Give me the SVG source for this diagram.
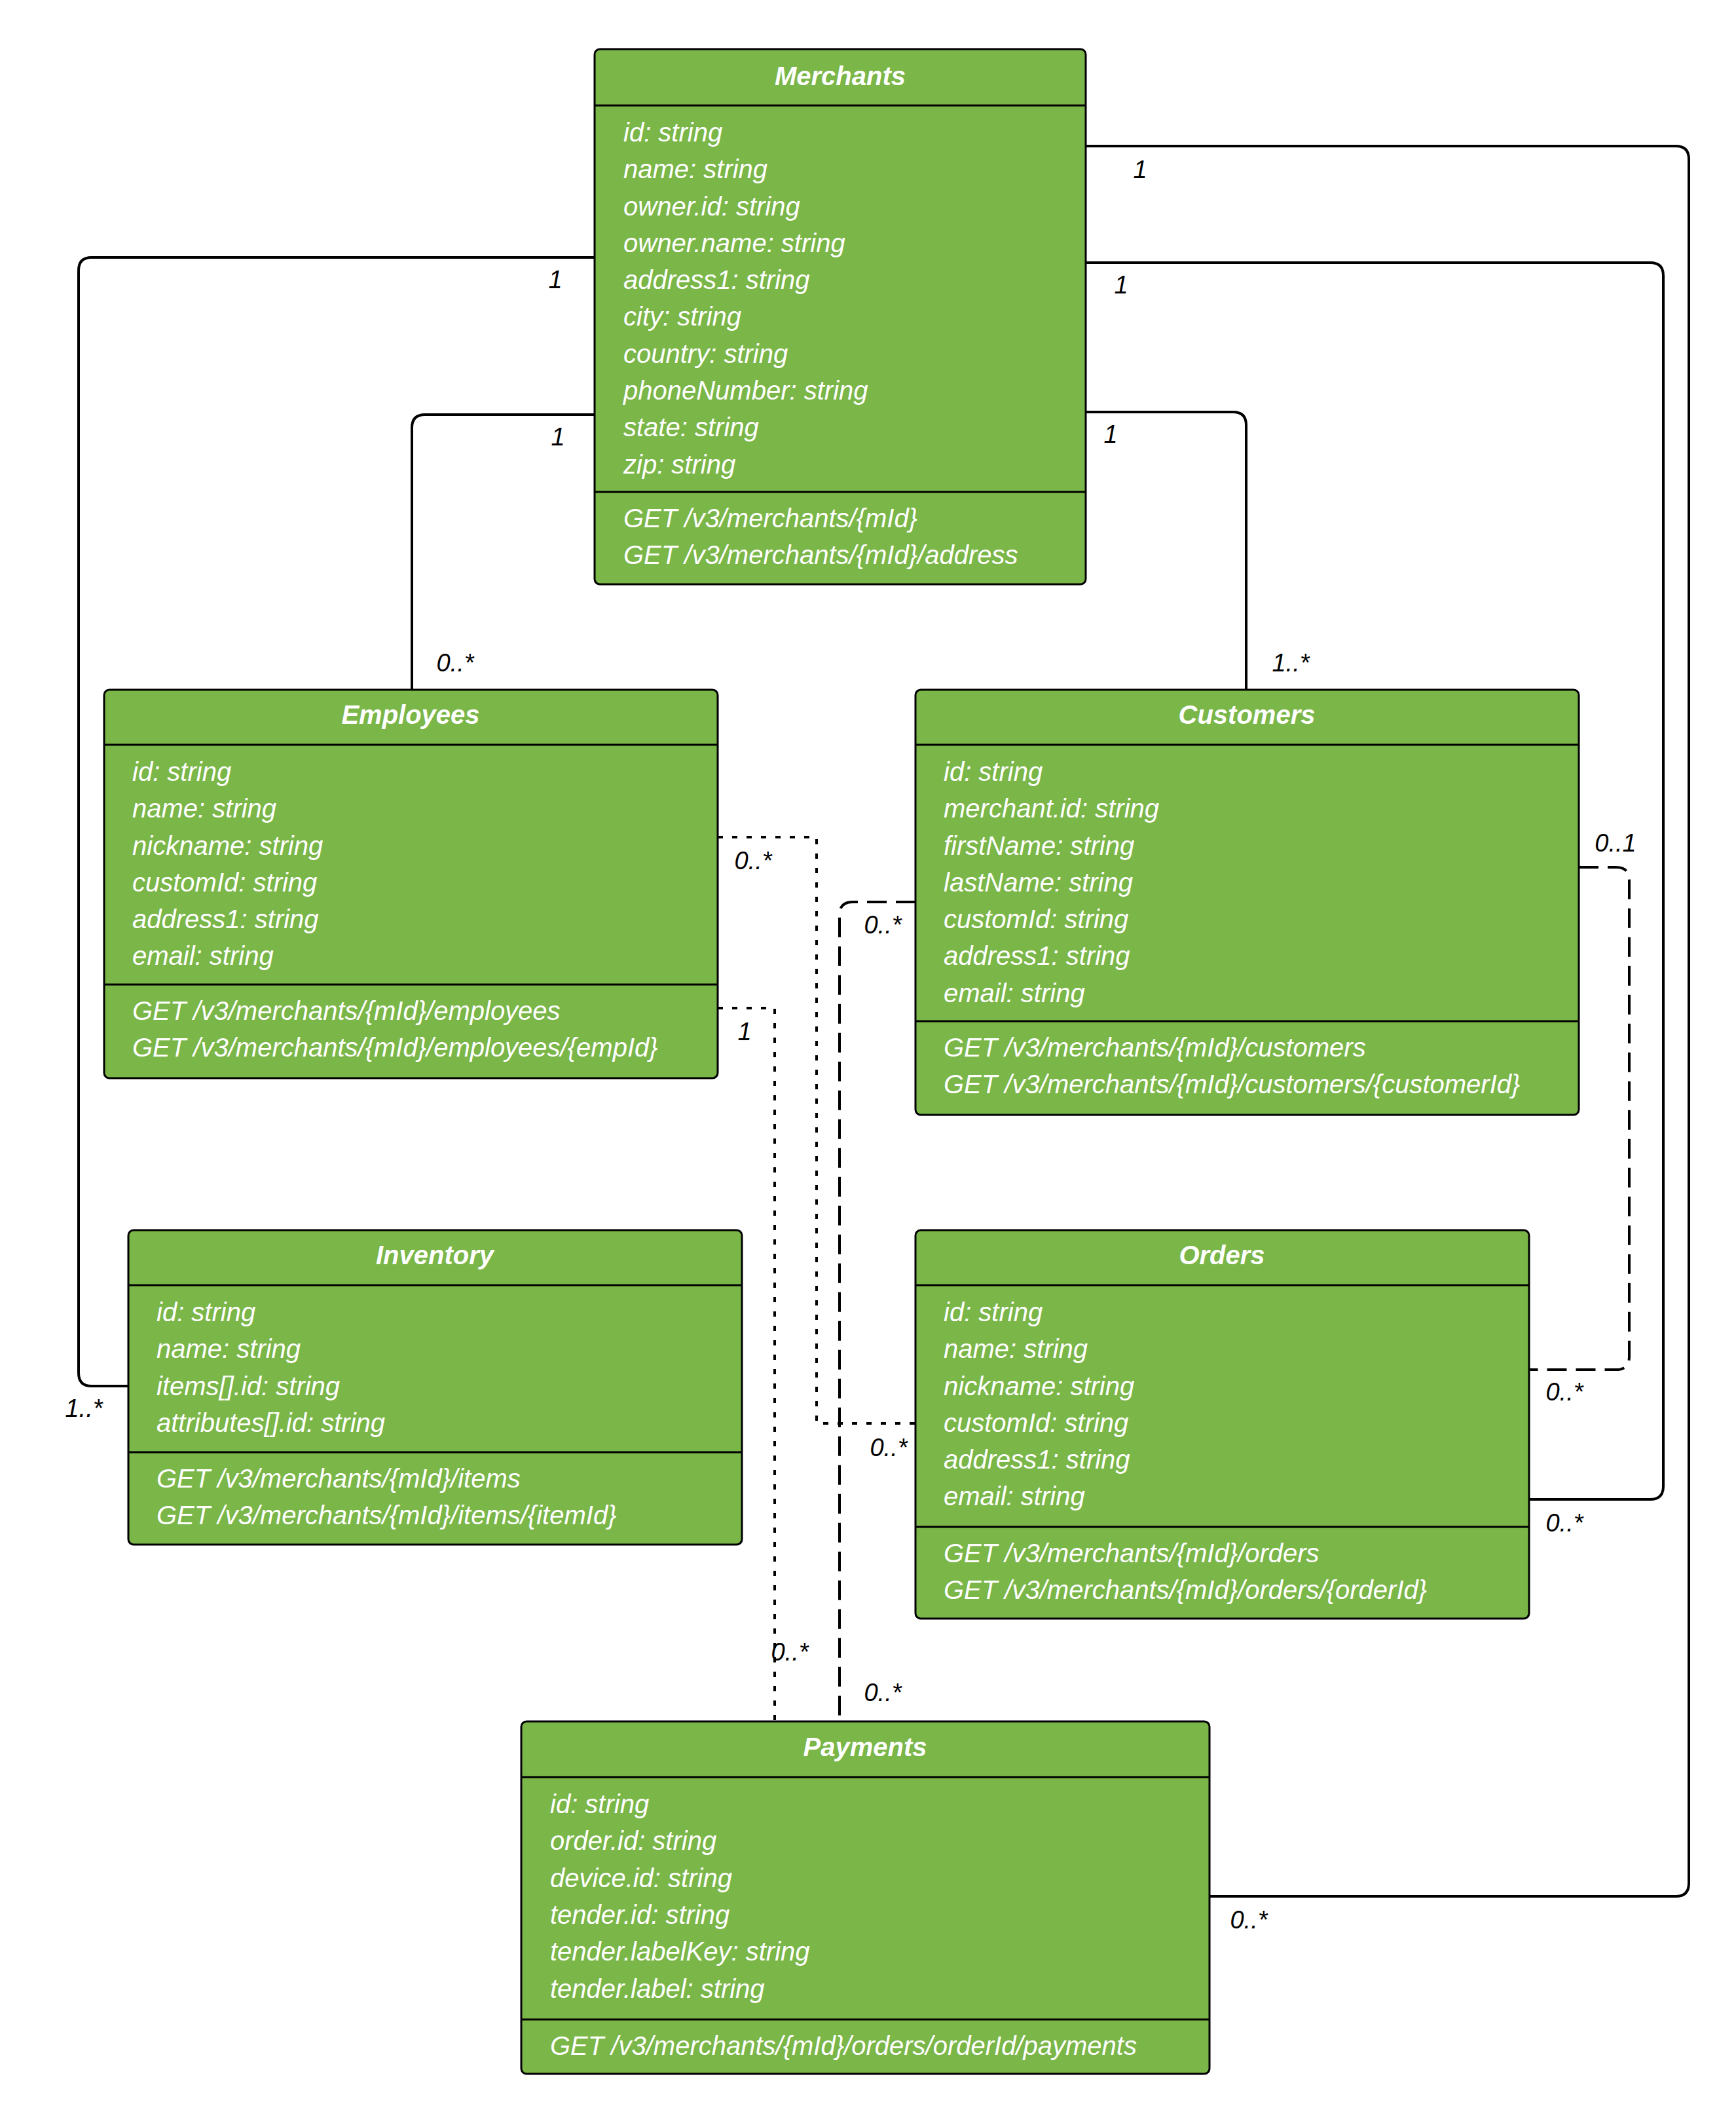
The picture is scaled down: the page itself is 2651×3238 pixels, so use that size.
<svg xmlns="http://www.w3.org/2000/svg" width="2651" height="3238" viewBox="0 0 2651 3238">
<style>
.box{fill:#7ab648;stroke:#000;stroke-width:3}
.ln{stroke:#000;stroke-width:3}
.t{font-family:"Liberation Sans",Arial,sans-serif;font-style:italic;font-size:40px;fill:#fff}
.h{font-weight:bold;text-anchor:middle}
.c{fill:none;stroke:#000;stroke-width:4}
.dot{stroke-dasharray:8 14}
.dash{stroke-dasharray:30 14}
.lb{font-family:"Liberation Sans",Arial,sans-serif;font-style:italic;font-size:38px;fill:#000;text-anchor:middle}
</style>
<rect width="2651" height="3238" fill="#fff"/>
<g id="connectors">
<path class="c" d="M1658 223 H2559 Q2579 223 2579 243 V2875 Q2579 2895 2559 2895 H1847"/>
<path class="c" d="M1658 401 H2520 Q2540 401 2540 421 V2269 Q2540 2289 2520 2289 H2335"/>
<path class="c" d="M1658 629 H1883 Q1903 629 1903 649 V1053"/>
<path class="c" d="M908 393 H140 Q120 393 120 413 V2096 Q120 2116 140 2116 H196"/>
<path class="c" d="M908 633 H649 Q629 633 629 653 V1053"/>
<path class="c dot" d="M1096 1278 H1247 V2173 H1398"/>
<path class="c dot" d="M1096 1539 H1183 V2628"/>
<path class="c dash" d="M1398 1377 H1302 Q1282 1377 1282 1397 V2628"/>
<path class="c dash" d="M2411 1324 H2468 Q2488 1324 2488 1344 V2071 Q2488 2091 2468 2091 H2335"/>
<text class="lb" x="1741" y="272">1</text>
<text class="lb" x="1907" y="2944">0..*</text>
<text class="lb" x="1712" y="448">1</text>
<text class="lb" x="2389" y="2338">0..*</text>
<text class="lb" x="1696" y="676">1</text>
<text class="lb" x="1971" y="1025">1..*</text>
<text class="lb" x="848" y="440">1</text>
<text class="lb" x="128" y="2163">1..*</text>
<text class="lb" x="852" y="680">1</text>
<text class="lb" x="695" y="1025">0..*</text>
<text class="lb" x="1150" y="1327">0..*</text>
<text class="lb" x="1357" y="2223">0..*</text>
<text class="lb" x="1137" y="1588">1</text>
<text class="lb" x="1206" y="2535">0..*</text>
<text class="lb" x="1348" y="1425">0..*</text>
<text class="lb" x="1348" y="2597">0..*</text>
<text class="lb" x="2467" y="1300">0..1</text>
<text class="lb" x="2389" y="2138">0..*</text>
</g>
<g id="merchants">
<rect class="box" x="908" y="75" width="750" height="817" rx="8"/>
<line class="ln" x1="908" y1="161" x2="1658" y2="161"/>
<line class="ln" x1="908" y1="751" x2="1658" y2="751"/>
<text class="t h" x="1283" y="130">Merchants</text>
<text class="t" x="952" y="216">id: string</text>
<text class="t" x="952" y="272">name: string</text>
<text class="t" x="952" y="329">owner.id: string</text>
<text class="t" x="952" y="385">owner.name: string</text>
<text class="t" x="952" y="441">address1: string</text>
<text class="t" x="952" y="497">city: string</text>
<text class="t" x="952" y="554">country: string</text>
<text class="t" x="952" y="610">phoneNumber: string</text>
<text class="t" x="952" y="666">state: string</text>
<text class="t" x="952" y="723">zip: string</text>
<text class="t" x="952" y="805">GET /v3/merchants/{mId}</text>
<text class="t" x="952" y="861">GET /v3/merchants/{mId}/address</text>
</g>
<g id="employees">
<rect class="box" x="159" y="1053" width="937" height="593" rx="8"/>
<line class="ln" x1="159" y1="1137" x2="1096" y2="1137"/>
<line class="ln" x1="159" y1="1503" x2="1096" y2="1503"/>
<text class="t h" x="627" y="1105">Employees</text>
<text class="t" x="202" y="1192">id: string</text>
<text class="t" x="202" y="1248">name: string</text>
<text class="t" x="202" y="1305">nickname: string</text>
<text class="t" x="202" y="1361">customId: string</text>
<text class="t" x="202" y="1417">address1: string</text>
<text class="t" x="202" y="1473">email: string</text>
<text class="t" x="202" y="1557">GET /v3/merchants/{mId}/employees</text>
<text class="t" x="202" y="1613">GET /v3/merchants/{mId}/employees/{empId}</text>
</g>
<g id="customers">
<rect class="box" x="1398" y="1053" width="1013" height="649" rx="8"/>
<line class="ln" x1="1398" y1="1137" x2="2411" y2="1137"/>
<line class="ln" x1="1398" y1="1559" x2="2411" y2="1559"/>
<text class="t h" x="1904" y="1105">Customers</text>
<text class="t" x="1441" y="1192">id: string</text>
<text class="t" x="1441" y="1248">merchant.id: string</text>
<text class="t" x="1441" y="1305">firstName: string</text>
<text class="t" x="1441" y="1361">lastName: string</text>
<text class="t" x="1441" y="1417">customId: string</text>
<text class="t" x="1441" y="1473">address1: string</text>
<text class="t" x="1441" y="1530">email: string</text>
<text class="t" x="1441" y="1613">GET /v3/merchants/{mId}/customers</text>
<text class="t" x="1441" y="1669">GET /v3/merchants/{mId}/customers/{customerId}</text>
</g>
<g id="inventory">
<rect class="box" x="196" y="1878" width="937" height="480" rx="8"/>
<line class="ln" x1="196" y1="1962" x2="1133" y2="1962"/>
<line class="ln" x1="196" y1="2217" x2="1133" y2="2217"/>
<text class="t h" x="664" y="1930">Inventory</text>
<text class="t" x="239" y="2017">id: string</text>
<text class="t" x="239" y="2073">name: string</text>
<text class="t" x="239" y="2130">items[].id: string</text>
<text class="t" x="239" y="2186">attributes[].id: string</text>
<text class="t" x="239" y="2271">GET /v3/merchants/{mId}/items</text>
<text class="t" x="239" y="2327">GET /v3/merchants/{mId}/items/{itemId}</text>
</g>
<g id="orders">
<rect class="box" x="1398" y="1878" width="937" height="593" rx="8"/>
<line class="ln" x1="1398" y1="1962" x2="2335" y2="1962"/>
<line class="ln" x1="1398" y1="2331" x2="2335" y2="2331"/>
<text class="t h" x="1866" y="1930">Orders</text>
<text class="t" x="1441" y="2017">id: string</text>
<text class="t" x="1441" y="2073">name: string</text>
<text class="t" x="1441" y="2130">nickname: string</text>
<text class="t" x="1441" y="2186">customId: string</text>
<text class="t" x="1441" y="2242">address1: string</text>
<text class="t" x="1441" y="2298">email: string</text>
<text class="t" x="1441" y="2385">GET /v3/merchants/{mId}/orders</text>
<text class="t" x="1441" y="2441">GET /v3/merchants/{mId}/orders/{orderId}</text>
</g>
<g id="payments">
<rect class="box" x="796" y="2628" width="1051" height="538" rx="8"/>
<line class="ln" x1="796" y1="2713" x2="1847" y2="2713"/>
<line class="ln" x1="796" y1="3083" x2="1847" y2="3083"/>
<text class="t h" x="1321" y="2681">Payments</text>
<text class="t" x="840" y="2768">id: string</text>
<text class="t" x="840" y="2824">order.id: string</text>
<text class="t" x="840" y="2881">device.id: string</text>
<text class="t" x="840" y="2937">tender.id: string</text>
<text class="t" x="840" y="2993">tender.labelKey: string</text>
<text class="t" x="840" y="3050">tender.label: string</text>
<text class="t" x="840" y="3137">GET /v3/merchants/{mId}/orders/orderId/payments</text>
</g>
</svg>
